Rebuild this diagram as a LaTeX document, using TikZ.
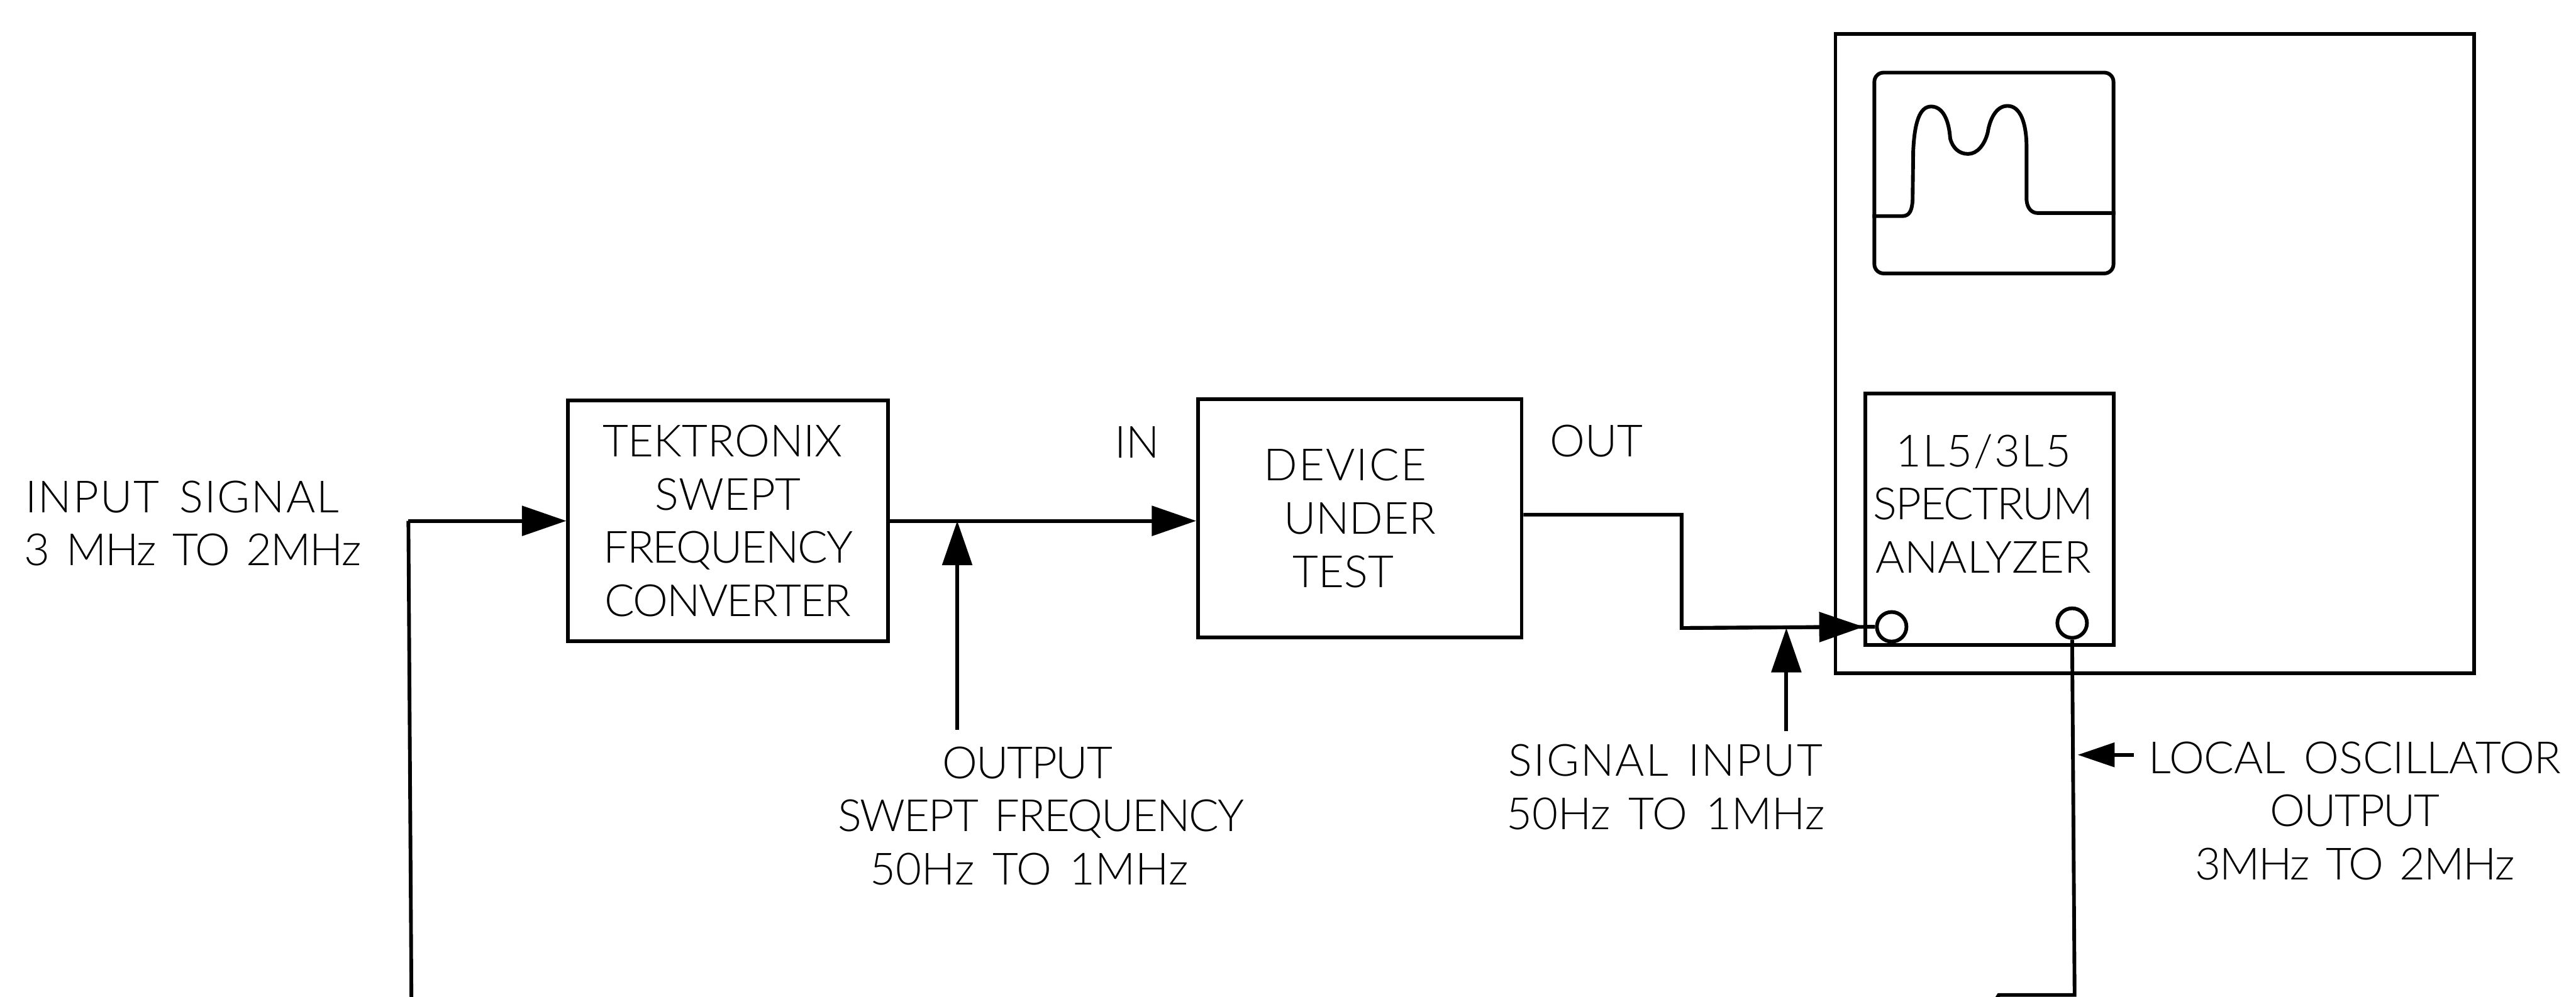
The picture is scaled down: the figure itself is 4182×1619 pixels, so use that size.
\documentclass[tikz,border=0pt]{standalone}
\usepackage{fontspec}
\setmainfont{Lato Light}[WordSpace=1.5]
\usetikzlibrary{positioning, arrows.meta}
\newcommand{\snug}[1]{{\addfontfeature{LetterSpace=-3}#1}}
\newcommand{\airy}[1]{{\addfontfeature{LetterSpace=3}#1}}

\begin{document}
\begin{tikzpicture}[
    x=0.01cm, y=-0.01cm,
    wire/.style={line width=0.06cm},
    sig/.style={wire, -{Triangle[length=0.72cm, width=0.48cm]}},
    blockbox/.style={draw, line width=0.06cm, inner sep=0pt, align=center},
    lbl/.style={font=\fontsize{20.5}{24.6}\selectfont, align=center, inner sep=0pt},
    jack/.style={draw, circle, line width=0.06cm, minimum size=0.48cm, inner sep=0pt}
]
\useasboundingbox (0,0) rectangle (4182,1619);

% === Blocks ===
\node[blockbox, lbl, minimum width=5.19cm, minimum height=3.91cm] (conv) at (1182,846)
    {\hspace*{-.18cm}TEKTRONIX\\SWEPT\\\snug{FREQUENCY}\\\snug{CONVERTER}};
\node[blockbox, lbl, minimum width=5.25cm, minimum height=3.87cm, right=4.97cm of conv, yshift=0.04cm] (dut)
    {\hspace*{-.48cm}\airy{DEVICE}\\UNDER\\\hspace*{-.54cm}TEST};

% === Analyzer ===
\node[draw, wire, minimum width=10.36cm, minimum height=10.38cm, inner sep=0pt] (cabinet) at (3498,574) {};
\node[draw, wire, rounded corners=0.15cm, minimum width=3.88cm, minimum height=3.26cm, inner sep=0pt] (screen) at (3237,281) {};
\node[draw, wire, minimum width=4.03cm, minimum height=4.08cm, inner sep=0pt] (plugin) at (3230,843) {};
\node[lbl] (pluginlbl) at (3220,818) {\airy{1L5/3L5}\\\snug{SPECTRUM}\\ANALYZER};
\node[jack] (jackin) at (3071,1018) {};
\node[jack] (jacklo) at (3364,1012) {};

% trace on the screen
\draw[wire] (screen.west |- 0,351) -- (3088,351)
    .. controls (3100,351) and (3104,342) .. (3105,325) -- (3106,245)
    .. controls (3108,200) and (3116,173) .. (3135,173)
    .. controls (3154,173) and (3164,195) .. (3166,225)
    .. controls (3170,240) and (3180,250) .. (3195,250)
    .. controls (3210,250) and (3222,235) .. (3227,215)
    .. controls (3230,195) and (3240,172) .. (3259,172)
    .. controls (3280,172) and (3290,200) .. (3290,240) -- (3290,325)
    .. controls (3291,338) and (3298,346) .. (3308,346) -- (screen.east |- 0,346);

% === Labels ===
\node[lbl] (inlbl) at (313,850) {\airy{INPUT SIGNAL}\hspace*{.34cm}\\\snug{3 MHz TO 2MHz}};
\node[lbl] (dutin) at (1846,718) {IN};
\node[lbl] (dutout) at (2592,716) {OUT};
\node[lbl] (swept) at (1690,1325) {\snug{OUTPUT}\hspace*{.44cm}\\\snug{SWEPT FREQUENCY}\\50Hz TO 1MHz\hspace*{.38cm}};
\node[lbl] (siginp) at (2704,1278) {\airy{SIGNAL INPUT}\\50Hz TO 1MHz};
\node[lbl] (lolbl) at (3823,1317) {LOCAL OSCILLATOR\\\snug{OUTPUT}\hspace*{.96cm}\\\snug{3MHz TO 2MHz}};

% === Arrows ===
\coordinate (outtail) at (1554,1185);
\coordinate (sigtail) at (2900,1187);
\coordinate (lotail) at (3464,1226);
\coordinate (lotip) at (3373,1226);
\coordinate (dutjog) at (2730,1020);
\coordinate (loopa) at (3368,1616);
\coordinate (loopb) at (3245,1616);
\coordinate (loopc) at (3235,1632);
\coordinate (loopd) at (668,1632);
\coordinate (loope) at (663,846);

\draw[sig] (conv.east) -- (dut.west |- conv.east);
\draw[sig] (outtail) -- (outtail |- conv.east);
\draw[wire] ([yshift=0.06cm]dut.east) -| (dutjog) -- (jackin.west);
\draw[sig] (dutjog) -- (plugin.west |- jackin.west);
\draw[sig] (sigtail) -- (sigtail |- dutjog);
\draw[sig, -{Triangle[length=0.6cm, width=0.39cm]}] (lotail) -- (lotip);
\draw[wire] (jacklo.south) -- (loopa) -- (loopb) -- (loopc) -- (loopd) -- (loope);
\draw[sig] (loope) -- (conv.west);

\end{tikzpicture}
\end{document}
